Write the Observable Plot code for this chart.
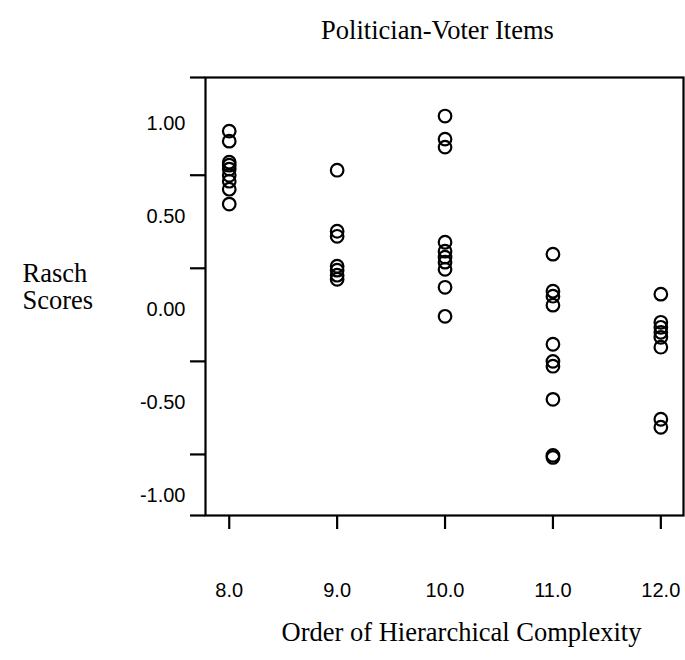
<!DOCTYPE html>
<html>
<head>
<meta charset="utf-8">
<script src="https://cdn.jsdelivr.net/npm/d3@7"></script>
<script src="https://cdn.jsdelivr.net/npm/@observablehq/plot@0.6"></script>
<style>
  html, body { margin: 0; padding: 0; background: #fff; }
</style>
</head>
<body>
<div id="chart"></div>
<script>
// Order of Hierarchical Complexity (x) and Rasch scores (y)
const order8  = [0.957, 0.903, 0.790, 0.774, 0.753, 0.720, 0.688, 0.645, 0.565];
const order9  = [0.747, 0.419, 0.392, 0.231, 0.210, 0.183, 0.161];
const order10 = [1.038, 0.914, 0.871, 0.360, 0.312, 0.280, 0.253, 0.215, 0.118, -0.038];
const order11 = [0.296, 0.097, 0.070, 0.022, -0.188, -0.280, -0.306, -0.484, -0.785, -0.796];
const order12 = [0.081, -0.070, -0.097, -0.124, -0.151, -0.204, -0.591, -0.634];

const orders = [8, 9, 10, 11, 12];
const series = [order8, order9, order10, order11, order12];

const xTicks = [8, 9, 10, 11, 12];
const yTickLabels = [1, 0.5, 0, -0.5, -1];
const yTickMarks = [1.245, 0.72, 0.22, -0.28, -0.78, -1.108];

const title = "Politician-Voter Items";
const xTitle = "Order of Hierarchical Complexity";
const yTitle = "Rasch\nScores";

const data = series.flatMap((vals, i) => vals.map(v => ({order: orders[i], score: v})));

const serif = "'Liberation Serif', 'Times New Roman', serif";
const sans = "'Liberation Sans', Arial, sans-serif";

const chart = Plot.plot({
  width: 685,
  height: 660,
  marginLeft: 205,
  marginRight: 2,
  marginTop: 77,
  marginBottom: 145,
  style: {background: "#fff", color: "#000"},
  x: {domain: [7.78, 12.21]},
  y: {domain: [-1.108, 1.245]},
  marks: [
    Plot.frame({stroke: "#000", strokeWidth: 2.2}),
    Plot.axisY(yTickMarks, {tickSize: 15, strokeWidth: 2.2, text: null, label: null}),
    Plot.axisY(yTickLabels, {tickSize: 0, tickPadding: 20, tickFormat: d => d.toFixed(2),
      fontSize: 20, fontFamily: sans, label: null}),
    Plot.axisX(xTicks, {tickSize: 14, strokeWidth: 2.2, tickPadding: 53, tickFormat: d => d.toFixed(1),
      fontSize: 20, fontFamily: sans, label: null}),
    Plot.dot(data, {x: "order", y: "score", r: 6.3, stroke: "#000", strokeWidth: 2.2, fill: "none"}),
    Plot.text([title], {frameAnchor: "top", dy: -57, dx: -7, fontSize: 26.5, fontFamily: serif, fill: "#000"}),
    Plot.text([xTitle], {frameAnchor: "bottom", dy: 125, dx: 17, fontSize: 26.5, fontFamily: serif, fill: "#000"}),
    Plot.text([yTitle], {frameAnchor: "left", dx: -183, dy: -9.5, textAnchor: "start", lineHeight: 1.03,
      fontSize: 26.5, fontFamily: serif, fill: "#000"})
  ]
});
document.getElementById("chart").appendChild(chart);
</script>
</body>
</html>
